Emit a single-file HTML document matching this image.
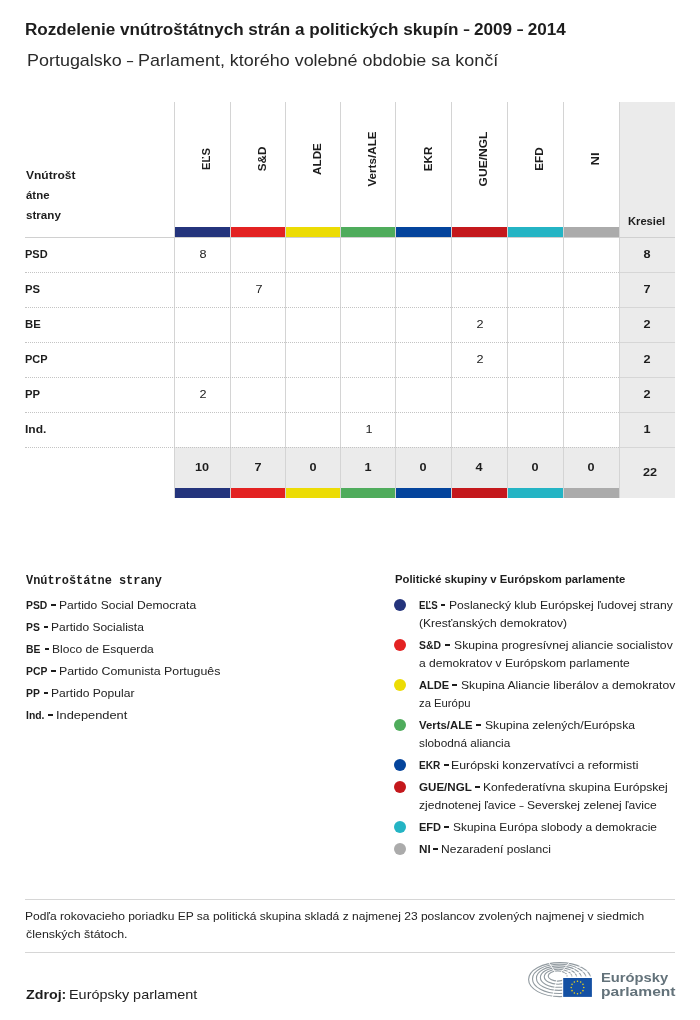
<!DOCTYPE html>
<html lang="sk">
<head>
<meta charset="utf-8">
<title>Rozdelenie</title>
<style>
*{box-sizing:border-box;margin:0;padding:0}
html,body{width:700px;height:1020px;background:#fff;overflow:hidden}
body{font-family:"Liberation Sans",sans-serif;color:#222;position:relative}
.wrap{position:absolute;left:0;top:0;width:700px;height:1020px;will-change:transform}
.t{position:absolute;white-space:nowrap;line-height:20px;transform-origin:0 50%}
.dash{position:absolute;width:4.9px;height:1.5px;background:#1d1d1d;font-size:0;color:transparent;overflow:hidden}
.nd{display:inline-block;clip-path:inset(0 36% 0 0);margin-right:-0.2em}
.vline{position:absolute;top:102px;width:1px;height:396px;background:#d4d4d4}
.kcol{position:absolute;left:619px;top:102px;width:56px;height:396px;background:#ebebeb}
.totbg{position:absolute;left:174px;top:447px;width:445px;height:41px;background:#ebebeb}
.hline{position:absolute;left:25px;width:650px;height:1px;background:#d0d0d0}
.dot{position:absolute;left:25px;width:594px;height:0;border-top:1px dotted #c4c4c4}
.kline{position:absolute;left:619px;width:56px;height:1px;background:#d6d6d6}
.bar{position:absolute;height:10px}
.rot{position:absolute;font-weight:bold;font-size:11.7px;line-height:14px;white-space:nowrap;transform:translate(-50%,-50%) rotate(-90deg);transform-origin:center;color:#1d1d1d}
.num{position:absolute;width:56px;text-align:center;font-size:11.3px;line-height:20px;color:#222;transform:scaleX(1.12)}
.num.b{font-weight:bold;color:#1d1d1d;transform:scaleX(1.12)}
.circ{position:absolute;left:394.1px;width:12.2px;height:12.2px;border-radius:50%}
</style>
</head>
<body>
<div class="wrap">
<div class="kcol"></div><div class="totbg"></div>
<div class="bar" style="left:175px;top:227px;width:55px;background:#24347c"></div>
<div class="bar" style="left:175px;top:488px;width:55px;background:#24347c"></div>
<div class="bar" style="left:231px;top:227px;width:54px;background:#e32222"></div>
<div class="bar" style="left:231px;top:488px;width:54px;background:#e32222"></div>
<div class="bar" style="left:286px;top:227px;width:54px;background:#ecdc04"></div>
<div class="bar" style="left:286px;top:488px;width:54px;background:#ecdc04"></div>
<div class="bar" style="left:341px;top:227px;width:54px;background:#4fac5c"></div>
<div class="bar" style="left:341px;top:488px;width:54px;background:#4fac5c"></div>
<div class="bar" style="left:396px;top:227px;width:55px;background:#04449c"></div>
<div class="bar" style="left:396px;top:488px;width:55px;background:#04449c"></div>
<div class="bar" style="left:452px;top:227px;width:55px;background:#c4181c"></div>
<div class="bar" style="left:452px;top:488px;width:55px;background:#c4181c"></div>
<div class="bar" style="left:508px;top:227px;width:55px;background:#24b4c4"></div>
<div class="bar" style="left:508px;top:488px;width:55px;background:#24b4c4"></div>
<div class="bar" style="left:564px;top:227px;width:55px;background:#ababab"></div>
<div class="bar" style="left:564px;top:488px;width:55px;background:#ababab"></div>
<div class="vline" style="left:174px"></div>
<div class="vline" style="left:230px"></div>
<div class="vline" style="left:285px"></div>
<div class="vline" style="left:340px"></div>
<div class="vline" style="left:395px"></div>
<div class="vline" style="left:451px"></div>
<div class="vline" style="left:507px"></div>
<div class="vline" style="left:563px"></div>
<div class="vline" style="left:619px"></div>
<div class="hline" style="top:237px"></div>
<div class="dot" style="top:272px"></div>
<div class="kline" style="top:272px"></div>
<div class="dot" style="top:307px"></div>
<div class="kline" style="top:307px"></div>
<div class="dot" style="top:342px"></div>
<div class="kline" style="top:342px"></div>
<div class="dot" style="top:377px"></div>
<div class="kline" style="top:377px"></div>
<div class="dot" style="top:412px"></div>
<div class="kline" style="top:412px"></div>
<div class="dot" style="top:447px"></div>
<div class="kline" style="top:447px"></div>
<div class="rot" style="left:206.0px;top:159.1px;transform:translate(-50%,-50%) rotate(-90deg) scaleX(0.96)">EĽS</div>
<div class="rot" style="left:262.2px;top:159.1px;transform:translate(-50%,-50%) rotate(-90deg) scaleX(1)">S&amp;D</div>
<div class="rot" style="left:317.3px;top:159.1px;transform:translate(-50%,-50%) rotate(-90deg) scaleX(1)">ALDE</div>
<div class="rot" style="left:372.2px;top:159.1px;transform:translate(-50%,-50%) rotate(-90deg) scaleX(1)">Verts/ALE</div>
<div class="rot" style="left:427.5px;top:159.1px;transform:translate(-50%,-50%) rotate(-90deg) scaleX(1)">EKR</div>
<div class="rot" style="left:483.0px;top:159.1px;transform:translate(-50%,-50%) rotate(-90deg) scaleX(1.03)">GUE/NGL</div>
<div class="rot" style="left:539.2px;top:159.1px;transform:translate(-50%,-50%) rotate(-90deg) scaleX(1)">EFD</div>
<div class="rot" style="left:595.2px;top:159.1px;transform:translate(-50%,-50%) rotate(-90deg) scaleX(1.12)">NI</div>
<div class="num" style="left:175.10px;top:244.38px">8</div>
<div class="num b" style="left:619.30px;top:244.18px">8</div>
<div class="num" style="left:230.60px;top:279.38px">7</div>
<div class="num b" style="left:619.30px;top:279.18px">7</div>
<div class="num" style="left:452.10px;top:314.38px">2</div>
<div class="num b" style="left:619.30px;top:314.18px">2</div>
<div class="num" style="left:452.10px;top:349.38px">2</div>
<div class="num b" style="left:619.30px;top:349.18px">2</div>
<div class="num" style="left:175.10px;top:384.38px">2</div>
<div class="num b" style="left:619.30px;top:384.18px">2</div>
<div class="num" style="left:340.60px;top:419.38px">1</div>
<div class="num b" style="left:619.30px;top:419.18px">1</div>
<div class="num b" style="left:174.20px;top:457.28px">10</div>
<div class="num b" style="left:229.70px;top:457.28px">7</div>
<div class="num b" style="left:284.70px;top:457.28px">0</div>
<div class="num b" style="left:339.70px;top:457.28px">1</div>
<div class="num b" style="left:395.20px;top:457.28px">0</div>
<div class="num b" style="left:451.20px;top:457.28px">4</div>
<div class="num b" style="left:507.20px;top:457.28px">0</div>
<div class="num b" style="left:563.20px;top:457.28px">0</div>
<div class="num b" style="left:622.30px;top:462.48px">22</div>
<div class="t" style="left:25.03px;top:19.76px;font-family:'Liberation Sans',sans-serif;font-size:16px;font-weight:bold;color:#1d1d1d;transform:scaleX(1.0691)">Rozdelenie vnútroštátnych strán a politických skupín <span class="nd">–</span> 2009 <span class="nd">–</span> 2014</div>
<div class="t" style="left:26.92px;top:50.95px;font-family:'Liberation Sans',sans-serif;font-size:16.6px;font-weight:normal;color:#2a2a2a;transform:scaleX(1.0811)">Portugalsko <span class="nd">–</span> Parlament, ktorého volebné obdobie sa končí</div>
<div class="t" style="left:25.90px;top:165.09px;font-family:'Liberation Sans',sans-serif;font-size:11px;font-weight:bold;color:#1d1d1d;transform:scaleX(1.0933)">Vnútrošt</div>
<div class="t" style="left:25.90px;top:185.09px;font-family:'Liberation Sans',sans-serif;font-size:11px;font-weight:bold;color:#1d1d1d;transform:scaleX(1.0391)">átne</div>
<div class="t" style="left:25.90px;top:205.09px;font-family:'Liberation Sans',sans-serif;font-size:11px;font-weight:bold;color:#1d1d1d;transform:scaleX(1.0576)">strany</div>
<div class="t" style="left:25.35px;top:244.08px;font-family:'Liberation Sans',sans-serif;font-size:11.6px;font-weight:bold;color:#1d1d1d;transform:scaleX(0.9478)">PSD</div>
<div class="t" style="left:25.33px;top:279.08px;font-family:'Liberation Sans',sans-serif;font-size:11.6px;font-weight:bold;color:#1d1d1d;transform:scaleX(0.9714)">PS</div>
<div class="t" style="left:25.33px;top:314.08px;font-family:'Liberation Sans',sans-serif;font-size:11.6px;font-weight:bold;color:#1d1d1d;transform:scaleX(0.9733)">BE</div>
<div class="t" style="left:25.35px;top:349.08px;font-family:'Liberation Sans',sans-serif;font-size:11.6px;font-weight:bold;color:#1d1d1d;transform:scaleX(0.9478)">PCP</div>
<div class="t" style="left:25.33px;top:384.08px;font-family:'Liberation Sans',sans-serif;font-size:11.6px;font-weight:bold;color:#1d1d1d;transform:scaleX(0.9714)">PP</div>
<div class="t" style="left:25.26px;top:419.08px;font-family:'Liberation Sans',sans-serif;font-size:11.6px;font-weight:bold;color:#1d1d1d;transform:scaleX(1.0368)">Ind.</div>
<div class="t" style="left:627.90px;top:210.98px;font-family:'Liberation Sans',sans-serif;font-size:11.3px;font-weight:bold;color:#1d1d1d;transform:scaleX(0.9865)">Kresiel</div>
<div class="t" style="left:26.20px;top:570.50px;font-family:'Liberation Mono',monospace;font-size:12px;font-weight:bold;color:#1d1d1d;transform:scaleX(0.9927)">Vnútroštátne strany</div>
<div class="t" style="left:395.30px;top:568.99px;font-family:'Liberation Sans',sans-serif;font-size:11px;font-weight:bold;color:#1d1d1d;transform:scaleX(1.0259)">Politické skupiny v Európskom parlamente</div>
<div class="t" style="left:419.30px;top:613.26px;font-family:'Liberation Sans',sans-serif;font-size:10.8px;font-weight:normal;color:#222;transform:scaleX(1.1174)">(Kresťanských demokratov)</div>
<div class="t" style="left:419.30px;top:653.26px;font-family:'Liberation Sans',sans-serif;font-size:10.8px;font-weight:normal;color:#222;transform:scaleX(1.1186)">a demokratov v Európskom parlamente</div>
<div class="t" style="left:419.30px;top:693.26px;font-family:'Liberation Sans',sans-serif;font-size:10.8px;font-weight:normal;color:#222;transform:scaleX(1.0449)">za Európu</div>
<div class="t" style="left:419.30px;top:733.26px;font-family:'Liberation Sans',sans-serif;font-size:10.8px;font-weight:normal;color:#222;transform:scaleX(1.0940)">slobodná aliancia</div>
<div class="t" style="left:419.30px;top:795.26px;font-family:'Liberation Sans',sans-serif;font-size:10.8px;font-weight:normal;color:#222;transform:scaleX(1.1193)">zjednotenej ľavice <span class="nd">–</span> Severskej zelenej ľavice</div>
<div class="t" style="left:26.10px;top:595.26px;font-family:'Liberation Sans',sans-serif;font-size:10.8px;font-weight:bold;color:#1d1d1d;transform:scaleX(0.9600)">PSD</div>
<div class="t" style="left:58.70px;top:595.26px;font-family:'Liberation Sans',sans-serif;font-size:10.8px;font-weight:normal;color:#222;transform:scaleX(1.1203)">Partido Social Democrata</div>
<div class="dash" style="left:51.22px;top:604.45px">–</div>
<div class="t" style="left:26.10px;top:617.26px;font-family:'Liberation Sans',sans-serif;font-size:10.8px;font-weight:bold;color:#1d1d1d;transform:scaleX(0.9600)">PS</div>
<div class="t" style="left:51.03px;top:617.26px;font-family:'Liberation Sans',sans-serif;font-size:10.8px;font-weight:normal;color:#222;transform:scaleX(1.1128)">Partido Socialista</div>
<div class="dash" style="left:43.54px;top:626.45px">–</div>
<div class="t" style="left:26.10px;top:639.26px;font-family:'Liberation Sans',sans-serif;font-size:10.8px;font-weight:bold;color:#1d1d1d;transform:scaleX(0.9600)">BE</div>
<div class="t" style="left:51.98px;top:639.26px;font-family:'Liberation Sans',sans-serif;font-size:10.8px;font-weight:normal;color:#222;transform:scaleX(1.1156)">Bloco de Esquerda</div>
<div class="dash" style="left:44.50px;top:648.45px">–</div>
<div class="t" style="left:26.10px;top:661.26px;font-family:'Liberation Sans',sans-serif;font-size:10.8px;font-weight:bold;color:#1d1d1d;transform:scaleX(0.9600)">PCP</div>
<div class="t" style="left:58.68px;top:661.26px;font-family:'Liberation Sans',sans-serif;font-size:10.8px;font-weight:normal;color:#222;transform:scaleX(1.1441)">Partido Comunista Português</div>
<div class="dash" style="left:51.22px;top:670.45px">–</div>
<div class="t" style="left:26.10px;top:683.26px;font-family:'Liberation Sans',sans-serif;font-size:10.8px;font-weight:bold;color:#1d1d1d;transform:scaleX(0.9600)">PP</div>
<div class="t" style="left:51.02px;top:683.26px;font-family:'Liberation Sans',sans-serif;font-size:10.8px;font-weight:normal;color:#222;transform:scaleX(1.1214)">Partido Popular</div>
<div class="dash" style="left:43.54px;top:692.45px">–</div>
<div class="t" style="left:26.10px;top:705.26px;font-family:'Liberation Sans',sans-serif;font-size:10.8px;font-weight:bold;color:#1d1d1d;transform:scaleX(0.9600)">Ind.</div>
<div class="t" style="left:55.75px;top:705.26px;font-family:'Liberation Sans',sans-serif;font-size:10.8px;font-weight:normal;color:#222;transform:scaleX(1.1875)">Independent</div>
<div class="dash" style="left:48.34px;top:714.45px">–</div>
<div class="t" style="left:419.30px;top:595.26px;font-family:'Liberation Sans',sans-serif;font-size:10.8px;font-weight:bold;color:#1d1d1d;transform:scaleX(0.8952)">EĽS</div>
<div class="t" style="left:448.68px;top:595.26px;font-family:'Liberation Sans',sans-serif;font-size:10.8px;font-weight:normal;color:#222;transform:scaleX(1.1221)">Poslanecký klub Európskej ľudovej strany</div>
<div class="dash" style="left:440.60px;top:604.45px">–</div>
<div class="t" style="left:419.30px;top:635.26px;font-family:'Liberation Sans',sans-serif;font-size:10.8px;font-weight:bold;color:#1d1d1d;transform:scaleX(0.9652)">S&amp;D</div>
<div class="t" style="left:453.70px;top:635.26px;font-family:'Liberation Sans',sans-serif;font-size:10.8px;font-weight:normal;color:#222;transform:scaleX(1.1284)">Skupina progresívnej aliancie socialistov</div>
<div class="dash" style="left:445.00px;top:644.45px">–</div>
<div class="t" style="left:419.30px;top:675.26px;font-family:'Liberation Sans',sans-serif;font-size:10.8px;font-weight:bold;color:#1d1d1d;transform:scaleX(1.0241)">ALDE</div>
<div class="t" style="left:461.00px;top:675.26px;font-family:'Liberation Sans',sans-serif;font-size:10.8px;font-weight:normal;color:#222;transform:scaleX(1.1225)">Skupina Aliancie liberálov a demokratov</div>
<div class="dash" style="left:452.10px;top:684.45px">–</div>
<div class="t" style="left:419.30px;top:715.26px;font-family:'Liberation Sans',sans-serif;font-size:10.8px;font-weight:bold;color:#1d1d1d;transform:scaleX(1.0529)">Verts/ALE</div>
<div class="t" style="left:484.50px;top:715.26px;font-family:'Liberation Sans',sans-serif;font-size:10.8px;font-weight:normal;color:#222;transform:scaleX(1.1256)">Skupina zelených/Európska</div>
<div class="dash" style="left:476.10px;top:724.45px">–</div>
<div class="t" style="left:419.30px;top:755.26px;font-family:'Liberation Sans',sans-serif;font-size:10.8px;font-weight:bold;color:#1d1d1d;transform:scaleX(0.9348)">EKR</div>
<div class="t" style="left:451.36px;top:755.26px;font-family:'Liberation Sans',sans-serif;font-size:10.8px;font-weight:normal;color:#222;transform:scaleX(1.1399)">Európski konzervatívci a reformisti</div>
<div class="dash" style="left:444.10px;top:764.45px">–</div>
<div class="t" style="left:419.30px;top:777.26px;font-family:'Liberation Sans',sans-serif;font-size:10.8px;font-weight:bold;color:#1d1d1d;transform:scaleX(1.0735)">GUE/NGL</div>
<div class="t" style="left:482.68px;top:777.26px;font-family:'Liberation Sans',sans-serif;font-size:10.8px;font-weight:normal;color:#222;transform:scaleX(1.1233)">Konfederatívna skupina Európskej</div>
<div class="dash" style="left:475.40px;top:786.45px">–</div>
<div class="t" style="left:419.30px;top:817.26px;font-family:'Liberation Sans',sans-serif;font-size:10.8px;font-weight:bold;color:#1d1d1d;transform:scaleX(1.0238)">EFD</div>
<div class="t" style="left:452.50px;top:817.26px;font-family:'Liberation Sans',sans-serif;font-size:10.8px;font-weight:normal;color:#222;transform:scaleX(1.1032)">Skupina Európa slobody a demokracie</div>
<div class="dash" style="left:444.10px;top:826.45px">–</div>
<div class="t" style="left:419.30px;top:839.26px;font-family:'Liberation Sans',sans-serif;font-size:10.8px;font-weight:bold;color:#1d1d1d;transform:scaleX(1.0800)">NI</div>
<div class="t" style="left:440.68px;top:839.26px;font-family:'Liberation Sans',sans-serif;font-size:10.8px;font-weight:normal;color:#222;transform:scaleX(1.1165)">Nezaradení poslanci</div>
<div class="dash" style="left:433.10px;top:848.45px">–</div>
<div class="t" style="left:24.96px;top:905.63px;font-family:'Liberation Sans',sans-serif;font-size:10.6px;font-weight:normal;color:#222;transform:scaleX(1.1358)">Podľa rokovacieho poriadku EP sa politická skupina skladá z najmenej 23 poslancov zvolených najmenej v siedmich</div>
<div class="t" style="left:26.10px;top:923.73px;font-family:'Liberation Sans',sans-serif;font-size:10.6px;font-weight:normal;color:#222;transform:scaleX(1.1733)">členských štátoch.</div>
<div class="t" style="left:25.60px;top:984.69px;font-family:'Liberation Sans',sans-serif;font-size:13.6px;font-weight:bold;color:#1d1d1d;transform:scaleX(1.0474)">Zdroj:</div>
<div class="t" style="left:69.35px;top:985.03px;font-family:'Liberation Sans',sans-serif;font-size:12.6px;font-weight:normal;color:#222;transform:scaleX(1.1450)">Európsky parlament</div>
<div class="t" style="left:600.82px;top:967.75px;font-family:'Liberation Sans',sans-serif;font-size:13.7px;font-weight:bold;color:#63727a;transform:scaleX(1.0770)">Európsky</div>
<div class="t" style="left:600.76px;top:982.25px;font-family:'Liberation Sans',sans-serif;font-size:13.7px;font-weight:bold;color:#63727a;transform:scaleX(1.1391)">parlament</div>
<div class="circ" style="top:598.8px;background:#24347c"></div>
<div class="circ" style="top:638.8px;background:#e32222"></div>
<div class="circ" style="top:678.8px;background:#ecdc04"></div>
<div class="circ" style="top:718.8px;background:#4fac5c"></div>
<div class="circ" style="top:758.8px;background:#04449c"></div>
<div class="circ" style="top:780.8px;background:#c4181c"></div>
<div class="circ" style="top:820.8px;background:#24b4c4"></div>
<div class="circ" style="top:842.8px;background:#ababab"></div>
<div class="hline" style="top:899px;background:#d6d6d6"></div>
<div class="hline" style="top:952px;background:#d6d6d6"></div>
<svg style="position:absolute;left:520px;top:955px" width="80" height="50" viewBox="520 955 80 50">
<g fill="none" stroke="#929ba1" stroke-width="1.1">
<ellipse cx="559.80" cy="979.60" rx="31.20" ry="17.00"/>
<ellipse cx="559.38" cy="978.88" rx="26.86" ry="14.62"/>
<ellipse cx="558.96" cy="978.16" rx="22.52" ry="12.24"/>
<ellipse cx="558.54" cy="977.44" rx="18.18" ry="9.86"/>
<ellipse cx="558.12" cy="976.72" rx="13.84" ry="7.48"/>
<ellipse cx="557.70" cy="976.00" rx="9.50" ry="5.10"/>
</g>
<g stroke="#fff" stroke-width="0.9">
<line x1="557.7" y1="976" x2="552.2" y2="998.1"/>
<line x1="557.7" y1="976" x2="548.2" y2="961.7"/>
<line x1="557.7" y1="976" x2="570.3" y2="961.5"/>
<line x1="557.7" y1="976" x2="582.6" y2="965.5"/>
<line x1="557.7" y1="976" x2="589.8" y2="970.7"/>
<line x1="557.7" y1="976" x2="593.3" y2="976.3"/>
</g>
<rect x="562.2" y="977" width="31" height="21" fill="#fff"/>
<rect x="563.2" y="978" width="28.7" height="18.9" fill="#1450a3"/>
<g fill="#f0d618">
<circle cx="583.80" cy="987.50" r="0.78"/>
<circle cx="582.96" cy="990.65" r="0.78"/>
<circle cx="580.65" cy="992.96" r="0.78"/>
<circle cx="577.50" cy="993.80" r="0.78"/>
<circle cx="574.35" cy="992.96" r="0.78"/>
<circle cx="572.04" cy="990.65" r="0.78"/>
<circle cx="571.20" cy="987.50" r="0.78"/>
<circle cx="572.04" cy="984.35" r="0.78"/>
<circle cx="574.35" cy="982.04" r="0.78"/>
<circle cx="577.50" cy="981.20" r="0.78"/>
<circle cx="580.65" cy="982.04" r="0.78"/>
<circle cx="582.96" cy="984.35" r="0.78"/>
</g></svg>
</div>
</body>
</html>
